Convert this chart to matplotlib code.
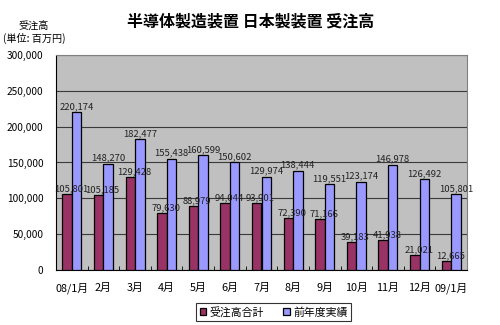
import matplotlib.pyplot as plt
import numpy as np

plt.rcParams['font.family'] = ['Noto Sans CJK JP', 'DejaVu Sans']

# データ
months = ['08/1月', '2月', '3月', '4月', '5月', '6月', '7月', '8月', '9月', '10月', '11月', '12月', '09/1月']
orders = [105801, 105185, 129428, 79630, 88979, 94044, 93901, 72390, 71166, 39183, 41938, 21021, 12665]
prev_year = [220174, 148270, 182477, 155438, 160599, 150602, 129974, 138444, 119551, 123174, 146978, 126492, 105801]

fig = plt.figure(figsize=(5, 3.25), dpi=100)
ax = fig.add_axes([0.112, 0.169, 0.822, 0.662])
ax.set_facecolor('#C0C0C0')

x = np.arange(len(months))
w = 0.3
ax.bar(x - w / 2, orders, w, color='#993366', edgecolor='black', linewidth=0.9, label='受注高合計', zorder=3)
ax.bar(x + w / 2, prev_year, w, color='#9999FF', edgecolor='black', linewidth=0.9, label='前年度実績', zorder=3)

for xi, v in zip(x, orders):
    ax.text(xi - w / 2 + 0.12, v + 1000, f'{v:,}', ha='center', va='bottom', fontsize=6.8, color='#222222', zorder=4)
for xi, v in zip(x, prev_year):
    ax.text(xi + w / 2, v + 1500, f'{v:,}', ha='center', va='bottom', fontsize=6.8, color='#222222', zorder=4)

ax.set_xlim(-0.5, len(months) - 0.5)
ax.set_ylim(0, 300000)
ax.set_yticks(range(0, 300001, 50000))
ax.set_yticklabels([f'{v:,}' for v in range(0, 300001, 50000)], fontsize=7.3)
ax.set_xticks(x)
ax.set_xticklabels(months, fontsize=7.8)
ax.tick_params(axis='x', length=0, pad=9)
ax.tick_params(axis='y', length=0, pad=9)
ax.set_xticks(np.arange(-0.5, len(months)), minor=True)
ax.tick_params(axis='x', which='minor', length=3, direction='in')
ax.yaxis.grid(True, color='#3a3a3a', linewidth=0.8, zorder=1)

for s in ['top', 'right']:
    ax.spines[s].set_color('#808080')
for s in ['left', 'bottom']:
    ax.spines[s].set_color('black')

fig.text(0.502, 0.935, '半導体製造装置 日本製装置 受注高', ha='center', va='center', fontsize=11.5, fontweight='bold')
fig.text(0.068, 0.9, '受注高\n(単位: 百万円)', ha='center', va='center', fontsize=7.3, linespacing=1.25)

leg = fig.legend(loc='center', bbox_to_anchor=(0.547, 0.04), ncol=2, fontsize=7.8, frameon=True, fancybox=False,
                 edgecolor='black', handlelength=0.6, handleheight=0.6, handletextpad=0.3, columnspacing=1.8,
                 borderpad=0.3)
leg.get_frame().set_linewidth(0.8)

plt.savefig('out.png', dpi=100)
